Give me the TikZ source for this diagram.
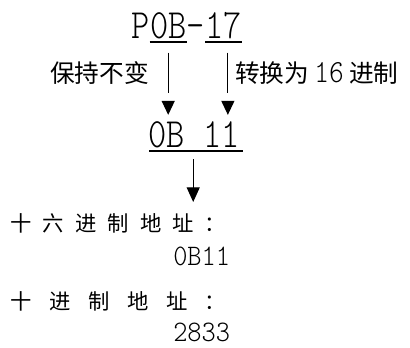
\documentclass[tikz,border=0pt]{standalone}
\usepackage{fontspec}
\newfontfamily\cjkfont{Noto Sans CJK SC}
\newfontfamily\codefont{lmmonolt10-regular}[Extension=.otf]
\usetikzlibrary{arrows.meta,positioning,calc}
\newcommand\tall[2][1.2]{\scalebox{1}[#1]{#2}}

\begin{document}
\begin{tikzpicture}[x=0.75pt,y=0.75pt,yscale=-1,xscale=1,
		code/.style={inner sep=0pt,anchor=base west,font=\codefont\fontsize{26}{26}\selectfont},
		value/.style={inner sep=0pt,anchor=base west,font=\codefont\fontsize{20.3}{20}\selectfont},
		note/.style={inner sep=0pt,font=\cjkfont\fontsize{18.5}{19}\selectfont},
		field/.style={inner sep=0pt,anchor=west,font=\cjkfont\fontsize{16}{16}\selectfont},
		rule/.style={line width=0.9pt},
		head/.style={line width=0.9pt,-{Triangle[length=10.5pt,width=9.75pt]}},
		down/.style={line width=0.9pt,-{Triangle[length=11pt,width=9.75pt]}}]
		\useasboundingbox (0,0) rectangle (410,347);
		
		% Text Node: address P0B-17
		\node [code] (pre) at (131,38) {\tall{P}};
		\node [code] (keep) at (pre.base east) {\tall{0B}};
		\node [code] (dash) at (keep.base east) {\tall{-}};
		\node [code] (num) at (dash.base east) {\tall{17}};
		%Straight Lines: underlines
		\draw [rule] ($(keep.base west)+(0,4)$) -- ($(keep.base east)+(0,4)$);
		\draw [rule] ($(num.base west)+(0,4)$) -- ($(num.base east)+(0,4)$);
		
		% Text Node: result 0B 11
		\node [code] (hkeep) at (148,147) {\tall{0B}};
		\node [code] (hnum) at (hkeep.base east) {\tall{\ 11}};
		\draw [rule] ($(hkeep.base west)+(1,4)$) coordinate (ul) -- ($(hnum.base east)+(3,4)$) coordinate (ur);
		
		%Straight Lines: arrow keeping 0B
		\draw [rule] ($(keep.south)+(0,14)$) -- node [note,left=14pt] (keepnote) {保持不变} ($(keep.south |- hkeep.north)+(0,-28)$);
		\draw [head] ($(keep.south |- hkeep.north)+(0,-20)$) -- ($(keep.south |- hkeep.north)+(0,-6)$);
		%Straight Lines: arrow converting 17
		\draw [rule] ($(num.south)+(4,14)$) -- node [note,right=5pt] (numnote) {转换为\hspace{4pt}{\codefont\fontsize{21}{21}\selectfont\tall[1.15]{16}}\hspace{4pt}进制} ($(num.south |- hnum.north)+(4,-28)$);
		\draw [head] ($(num.south |- hnum.north)+(4,-20)$) -- ($(num.south |- hnum.north)+(4,-6)$);
		
		% Text Node: hexadecimal address
		\node [field] (hexfield) at (10,223) {\makebox[162pt][s]{十\hfill 六\hfill 进\hfill 制\hfill 地\hfill 址\hfill ：}};
		\node [value] (hexvalue) at (173,265) {\tall[1.1]{0B11}};
		%Straight Lines: down arrow
		\draw [down] ($(ul)!0.47!(ur)+(0,8)$) -- ($(ul)!0.47!(ur)+(0,51)$);
		
		% Text Node: decimal address
		\node [field] (decfield) at (10,301) {\makebox[162pt][s]{十\hfill 进\hfill 制\hfill 地\hfill 址\hfill ：}};
		\node [value] (decvalue) at (173,341) {\tall[1.1]{2833}};
		
\end{tikzpicture}
\end{document}
